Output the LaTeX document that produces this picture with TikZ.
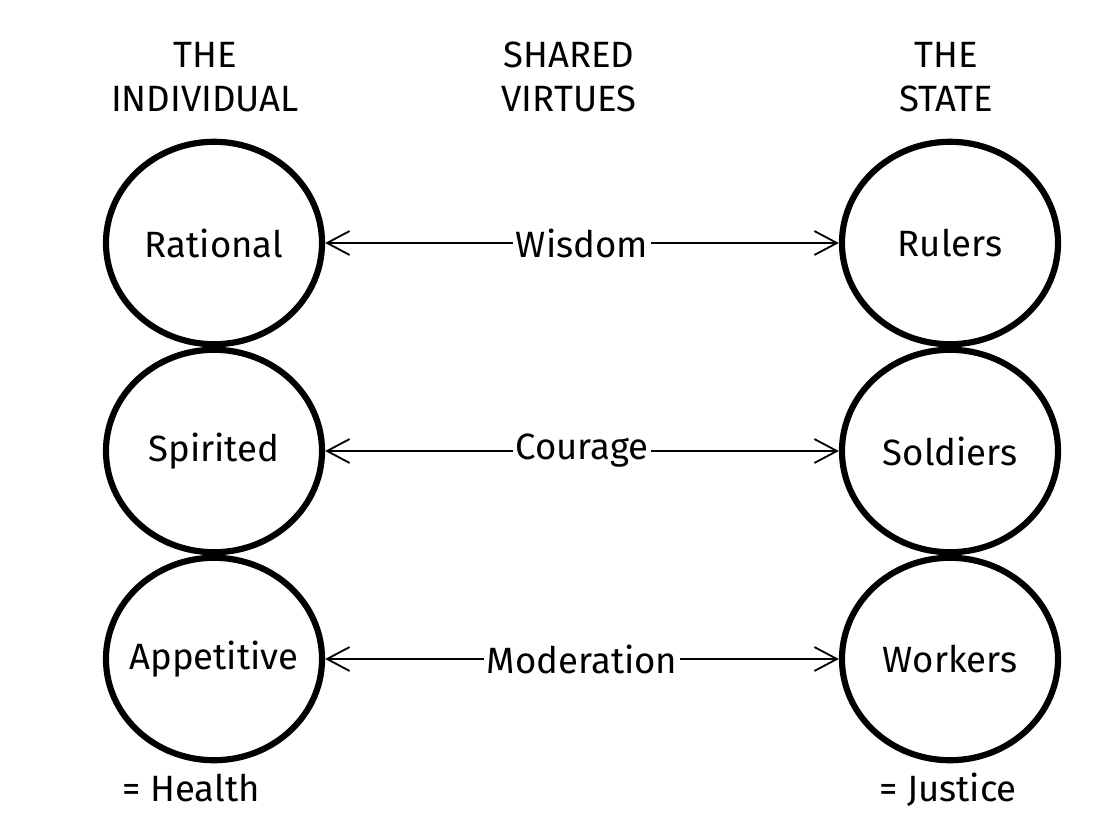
\documentclass[tikz,border=0pt]{standalone}
\usepackage{fontspec}
\setmainfont{Fira Sans}
\usetikzlibrary{shapes.geometric,arrows.meta}
\begin{document}
\begin{tikzpicture}[x=0.025cm,y=-0.025cm,
	part/.style={draw, ellipse, line width=4.4pt, minimum width=5.4cm, minimum height=5.06cm, inner xsep=-15pt, inner ysep=0pt, font=\fontsize{26}{30}\selectfont},
	head/.style={align=center, font=\fontsize{26}{31}\selectfont},
	link/.style={{Straight Barb[length=16pt,width=17pt]}-{Straight Barb[length=16pt,width=17pt]}, line width=1.3pt},
	virtue/.style={fill=white, inner sep=2pt, font=\fontsize{26}{30}\selectfont}]
	\useasboundingbox (0,0) rectangle (1112,836);
	% column heads
	\node[head] (indiv) at (205,77) {THE\\INDIVIDUAL};
	\node[head] (shared) at (569,77) {SHARED\\VIRTUES};
	\node[head] (state) at (946,77) {THE\\STATE};
	% parts of the soul
	\node[part] (rat) at (214,243) {Rational};
	\node[part] (spi) at (214,451) {Spirited};
	\node[part] (app) at (214,659) {Appetitive};
	% classes of the state
	\node[part] (rul) at (950,243) {Rulers};
	\node[part] (sol) at (950,451) {Soldiers};
	\node[part] (wor) at (950,659) {Workers};
	% shared virtues
	\draw[link] (rat) -- node[virtue] (wis) {Wisdom} (rul);
	\draw[link] (spi) -- node[virtue] (cou) {Courage} (sol);
	\draw[link] (app) -- node[virtue] (mod) {Moderation} (wor);
	% sums
	\node[head] (health) at (191,788) {= Health};
	\node[head] (justice) at (948,790) {= Justice};
\end{tikzpicture}
\end{document}
